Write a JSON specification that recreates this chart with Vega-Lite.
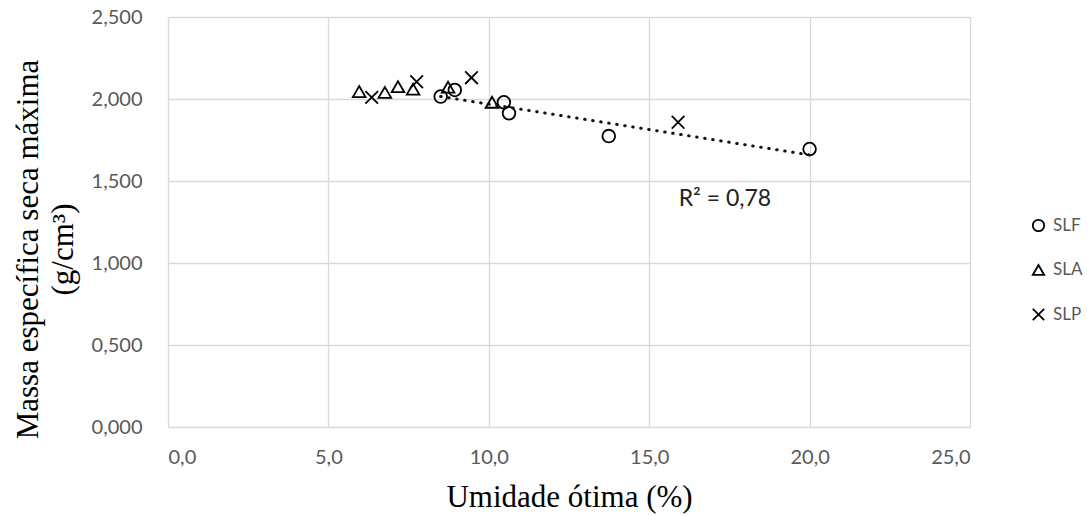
{
  "$schema": "https://vega.github.io/schema/vega-lite/v6.json",
  "autosize": "none",
  "width": 802,
  "height": 410,
  "padding": {"left": 168, "top": 17, "right": 117, "bottom": 89},
  "background": "white",
  "config": {"view": {"stroke": null}},
  "datasets": {
    "pts": [
      {"serie": "SLF", "umidade": 8.5, "massa": 2.015},
      {"serie": "SLF", "umidade": 8.94, "massa": 2.055},
      {"serie": "SLF", "umidade": 10.47, "massa": 1.98},
      {"serie": "SLF", "umidade": 10.63, "massa": 1.913},
      {"serie": "SLF", "umidade": 13.74, "massa": 1.774},
      {"serie": "SLF", "umidade": 20.0, "massa": 1.695},
      {"serie": "SLA", "umidade": 5.96, "massa": 2.045},
      {"serie": "SLA", "umidade": 6.76, "massa": 2.04},
      {"serie": "SLA", "umidade": 7.17, "massa": 2.075},
      {"serie": "SLA", "umidade": 7.64, "massa": 2.06},
      {"serie": "SLA", "umidade": 8.73, "massa": 2.072},
      {"serie": "SLA", "umidade": 10.1, "massa": 1.98},
      {"serie": "SLP", "umidade": 6.35, "massa": 2.01},
      {"serie": "SLP", "umidade": 7.75, "massa": 2.105},
      {"serie": "SLP", "umidade": 9.46, "massa": 2.13},
      {"serie": "SLP", "umidade": 15.9, "massa": 1.858}
    ],
    "lbl": [
      {"umidade": 17.36, "massa": 1.35, "texto": "R² = 0,78"}
    ]
  },
  "layer": [
    {
      "data": {"name": "pts"},
      "mark": {"type": "point", "filled": false, "color": "black", "strokeWidth": 1.8, "size": 160, "opacity": 1},
      "encoding": {
        "x": {
          "field": "umidade", "type": "quantitative",
          "scale": {"domain": [0, 25], "nice": false},
          "axis": {
            "values": [0, 5, 10, 15, 20, 25],
            "labelExpr": "replace(format(datum.value, '.1f'), '.', ',')",
            "title": "Umidade ótima (%)",
            "titleFont": "Liberation Serif", "titleFontSize": 31, "titleFontWeight": "normal", "titleColor": "black",
            "titleBaseline": "alphabetic", "titleY": 79,
            "labelFont": "Lato", "labelFontSize": 20, "labelColor": "#595959", "labelPadding": 20,
            "grid": true, "gridColor": "#d9d9d9", "gridWidth": 1.3,
            "domain": false, "ticks": false
          }
        },
        "y": {
          "field": "massa", "type": "quantitative",
          "scale": {"domain": [0, 2.5], "nice": false},
          "axis": {
            "values": [0, 0.5, 1, 1.5, 2, 2.5],
            "labelExpr": "replace(format(datum.value, '.3f'), '.', ',')",
            "title": ["Massa específica seca máxima", "(g/cm³)"],
            "titleFont": "Liberation Serif", "titleFontSize": 31, "titleFontWeight": "normal", "titleColor": "black",
            "titleLineHeight": 35,
            "titleAngle": -90, "titleAlign": "center", "titleBaseline": "middle",
            "titleX": -140, "titleY": 232,
            "labelFont": "Lato", "labelFontSize": 20, "labelColor": "#595959", "labelPadding": 26,
            "grid": true, "gridColor": "#d9d9d9", "gridWidth": 1.3,
            "domain": false, "ticks": false
          }
        },
        "shape": {
          "field": "serie", "type": "nominal",
          "scale": {"domain": ["SLF", "SLA", "SLP"], "range": ["circle", "triangle-up", "M-1,-1L1,1M1,-1L-1,1"]},
          "legend": {
            "title": null, "orient": "none", "legendX": 862, "legendY": 200,
            "padding": 0, "symbolSize": 130, "symbolStrokeColor": "black", "symbolFillColor": "transparent",
            "symbolStrokeWidth": 1.8, "labelFont": "Lato", "labelFontSize": 17, "labelColor": "#595959",
            "labelOffset": 6, "rowPadding": 25.5
          }
        }
      }
    },
    {
      "data": {"name": "pts"},
      "transform": [
        {"filter": "datum.serie === 'SLF'"},
        {"regression": "massa", "on": "umidade"}
      ],
      "mark": {"type": "line", "color": "#111", "strokeWidth": 3, "strokeDash": [0.5, 7.6], "strokeCap": "round"},
      "encoding": {
        "x": {"field": "umidade", "type": "quantitative"},
        "y": {"field": "massa", "type": "quantitative"}
      }
    },
    {
      "data": {"name": "lbl"},
      "mark": {"type": "text", "font": "Lato", "fontSize": 23, "color": "#222", "align": "center", "baseline": "alphabetic"},
      "encoding": {
        "x": {"field": "umidade", "type": "quantitative"},
        "y": {"field": "massa", "type": "quantitative"},
        "text": {"field": "texto"}
      }
    }
  ]
}
